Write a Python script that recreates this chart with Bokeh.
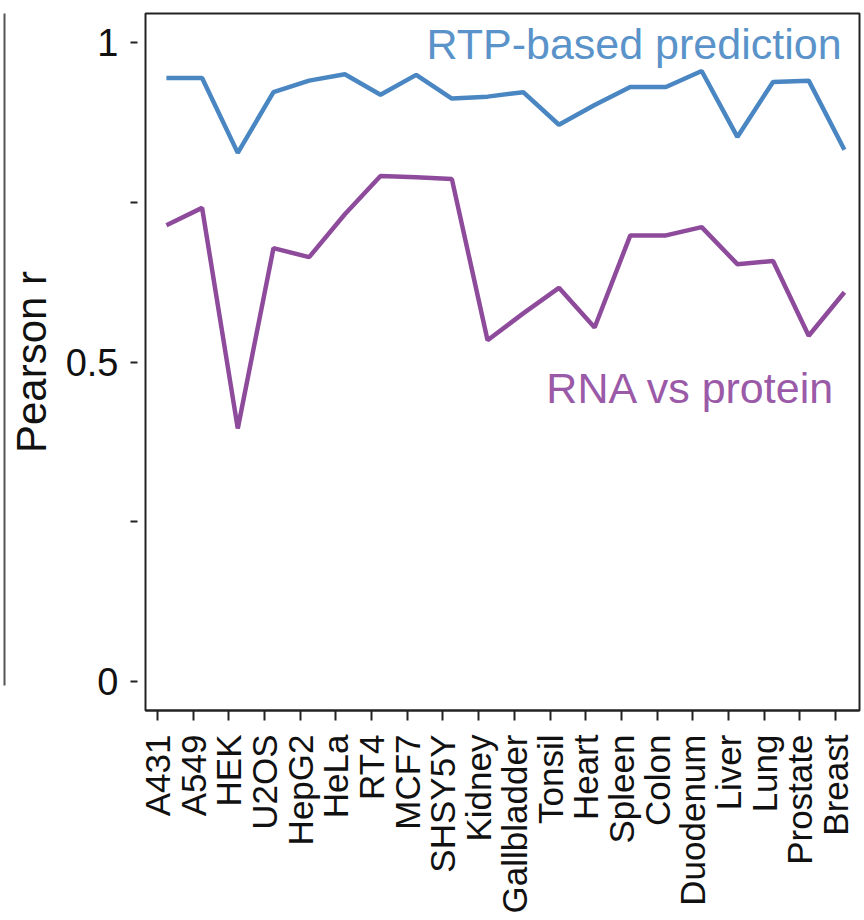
import math
from bokeh.plotting import figure
from bokeh.models import FixedTicker, LinearAxis, Range1d, ColumnDataSource, Label
from bokeh.transform import dodge
from bokeh.embed import file_html
from bokeh.resources import INLINE

# ---- data ----
tissues = ["A431", "A549", "HEK", "U2OS", "HepG2", "HeLa", "RT4", "MCF7", "SHSY5Y",
           "Kidney", "Gallbladder", "Tonsil", "Heart", "Spleen", "Colon", "Duodenum",
           "Liver", "Lung", "Prostate", "Breast"]
rtp_prediction = [0.944, 0.944, 0.827, 0.922, 0.940, 0.950, 0.918, 0.949, 0.912,
                  0.915, 0.922, 0.871, 0.902, 0.930, 0.930, 0.955,
                  0.852, 0.938, 0.940, 0.832]
rna_vs_protein = [0.714, 0.741, 0.396, 0.678, 0.664, 0.731, 0.791, 0.789, 0.786,
                  0.534, 0.576, 0.616, 0.554, 0.698, 0.698, 0.711,
                  0.653, 0.658, 0.541, 0.609]
y_ticks = [0, 0.25, 0.5, 0.75, 1]
y_tick_labels = {0: "0", 0.25: "", 0.5: "0.5", 0.75: "", 1: "1"}
series_names = ["RTP-based prediction", "RNA vs protein"]
y_title = "Pearson r"

# ---- styles ----
FONT = "Liberation Sans"
BLUE_LINE, BLUE_TEXT = "#4a87c2", "#5a93c9"
PURPLE_LINE, PURPLE_TEXT = "#8e4b9c", "#9a5aa8"
AX = "#222222"
TXT = "#111111"

idx = list(range(len(tissues)))
src = ColumnDataSource(dict(x=idx, rtp=rtp_prediction, rna=rna_vs_protein))

p = figure(width=864, height=920,
           x_range=Range1d(-0.336, 19.673), y_range=Range1d(-0.045, 1.045),
           output_backend="svg", toolbar_location=None,
           min_border_left=145, min_border_right=5, min_border_top=13, min_border_bottom=210)
p.grid.visible = False
p.outline_line_color = AX
p.outline_line_width = 2
p.background_fill_color = "white"
p.border_fill_color = "white"

p.line(x=dodge("x", 0.25), y="rtp", source=src, line_color=BLUE_LINE, line_width=4.5)
p.line(x=dodge("x", 0.25), y="rna", source=src, line_color=PURPLE_LINE, line_width=4.5)

p.add_layout(Label(x=19.17, y=0.997, text=series_names[0], text_align="right",
                   text_baseline="alphabetic", text_color=BLUE_TEXT,
                   text_font=FONT, text_font_size="43px"))
p.add_layout(Label(x=19.0, y=0.459, text=series_names[1], text_align="right",
                   text_baseline="alphabetic", text_color=PURPLE_TEXT,
                   text_font=FONT, text_font_size="43px"))

# x axis
xa = p.xaxis[0]
xa.ticker = FixedTicker(ticks=idx)
xa.major_label_overrides = {i: t for i, t in zip(idx, tissues)}
xa.major_label_orientation = math.pi / 2
xa.major_label_text_font = FONT
xa.major_label_text_font_size = "35px"
xa.major_label_text_color = TXT
xa.major_label_standoff = 14
xa.major_tick_in = 0
xa.major_tick_out = 10
xa.major_tick_line_width = 2
xa.major_tick_line_color = AX
xa.minor_tick_line_color = None
xa.axis_line_color = AX
xa.axis_line_width = 2

# y axis (border line comes from the frame outline; bounds nudge the title upward)
ya = p.yaxis[0]
ya.ticker = FixedTicker(ticks=y_ticks)
ya.major_label_overrides = y_tick_labels
ya.bounds = (0, 1.074)
ya.major_label_text_font = FONT
ya.major_label_text_font_size = "38px"
ya.major_label_text_color = TXT
ya.major_label_standoff = 12
ya.major_tick_in = -8
ya.major_tick_out = 15
ya.major_tick_line_width = 2
ya.major_tick_line_color = AX
ya.minor_tick_line_color = None
ya.axis_line_color = None
ya.axis_label = y_title
ya.axis_label_text_font = FONT
ya.axis_label_text_font_size = "42px"
ya.axis_label_text_font_style = "normal"
ya.axis_label_text_color = TXT
ya.axis_label_standoff = 8

# neighbouring panel edge (plain axis line, no ticks)
edge = LinearAxis(ticker=FixedTicker(ticks=[]), major_label_text_font_size="0px",
                  axis_line_color="#555555", axis_line_width=2,
                  major_tick_line_color=None, minor_tick_line_color=None,
                  bounds=(-0.006, 1.045))
p.add_layout(edge, "left")

open("out.html", "w").write(file_html(p, INLINE))
